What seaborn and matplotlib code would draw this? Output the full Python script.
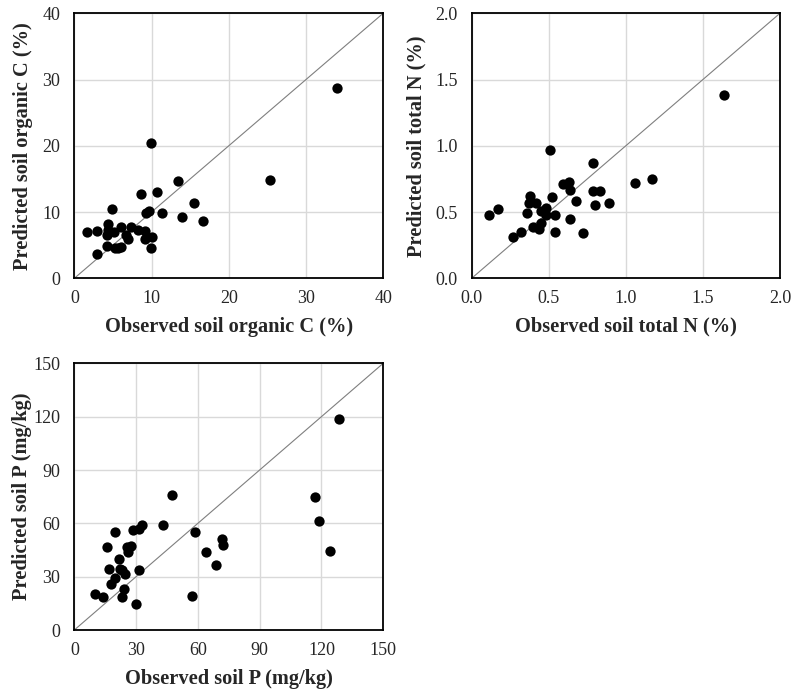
import numpy as np
import pandas as pd
import matplotlib
matplotlib.use("Agg")
import matplotlib.pyplot as plt
import seaborn as sns

# soil organic C (%)
obs_c = [1.6, 3.0, 3.0, 4.2, 4.4, 4.3, 4.2, 4.9, 5.1, 5.3, 5.7, 6.1, 6.0, 6.7, 7.0,
         7.3, 8.3, 8.6, 9.2, 9.1, 9.3, 9.7, 9.9, 9.9, 10.1, 10.7, 11.3, 13.4, 14.0,
         15.5, 16.7, 25.3, 34.0]
pred_c = [7.0, 7.1, 3.6, 4.9, 8.2, 7.3, 6.5, 10.5, 7.0, 4.6, 4.5, 4.8, 7.8, 6.5, 5.9,
          7.7, 7.3, 12.8, 7.1, 5.9, 9.9, 10.2, 20.4, 4.5, 6.3, 13.0, 9.8, 14.7, 9.3,
          11.3, 8.7, 14.8, 28.7]

# soil total N (%)
obs_n = [0.11, 0.17, 0.27, 0.32, 0.36, 0.38, 0.37, 0.40, 0.42, 0.44, 0.45, 0.45,
         0.48, 0.48, 0.51, 0.52, 0.54, 0.54, 0.59, 0.63, 0.64, 0.64, 0.68, 0.72,
         0.79, 0.79, 0.83, 0.80, 0.89, 1.06, 1.17, 1.64]
pred_n = [0.48, 0.52, 0.31, 0.35, 0.49, 0.62, 0.57, 0.39, 0.57, 0.37, 0.42, 0.51,
          0.48, 0.53, 0.97, 0.61, 0.48, 0.35, 0.71, 0.73, 0.67, 0.45, 0.58, 0.34,
          0.87, 0.66, 0.66, 0.55, 0.57, 0.72, 0.75, 1.38]

# soil P (mg/kg)
obs_p = [10.0, 14.1, 16.0, 16.8, 18.0, 19.7, 19.7, 21.7, 22.2, 23.1, 23.9, 23.1,
         24.6, 25.4, 25.9, 27.5, 28.6, 29.8, 31.2, 31.6, 32.7, 43.2, 47.2, 57.3,
         58.7, 63.8, 68.6, 71.8, 72.2, 117.0, 118.9, 124.1, 128.5]
pred_p = [20.1, 18.8, 46.9, 34.1, 25.9, 29.4, 55.1, 39.9, 34.3, 33.8, 23.3, 18.4,
          31.3, 46.5, 44.1, 47.3, 56.3, 14.6, 33.8, 57.0, 58.9, 59.1, 75.9, 19.3,
          55.1, 43.7, 36.8, 51.2, 47.8, 75.0, 61.3, 44.3, 118.5]

panels = [
    (obs_c, pred_c, 40, [0, 10, 20, 30, 40], "{:.0f}",
     "Observed soil organic C (%)", "Predicted soil organic C (%)"),
    (obs_n, pred_n, 2.0, [0, 0.5, 1.0, 1.5, 2.0], "{:.1f}",
     "Observed soil total N (%)", "Predicted soil total N (%)"),
    (obs_p, pred_p, 150, [0, 30, 60, 90, 120, 150], "{:.0f}",
     "Observed soil P (mg/kg)", "Predicted soil P (mg/kg)"),
]

sns.set_style("whitegrid")
plt.rcParams["font.family"] = ["Liberation Serif", "DejaVu Serif"]

fig = plt.figure(figsize=(7.94, 6.93), dpi=100)
boxes = [
    [0.0936, 0.5984, 0.389, 0.3824],
    [0.594, 0.5984, 0.3883, 0.3824],
    [0.0936, 0.0909, 0.389, 0.3848],
]
# y-label offsets (axes fraction) so labels sit at a fixed distance from the axis
ylab_x = [-0.133, -0.146, -0.136]

for box, lx, (x, y, lim, ticks, fmt, xl, yl) in zip(boxes, ylab_x, panels):
    ax = fig.add_axes(box)
    df = pd.DataFrame({"obs": x, "pred": y})
    ax.plot([0, lim], [0, lim], color="#7f7f7f", lw=0.8, zorder=2)
    sns.scatterplot(data=df, x="obs", y="pred", ax=ax, color="black",
                    s=55, edgecolor="black", linewidth=0, zorder=3)
    ax.set_xlim(0, lim)
    ax.set_ylim(0, lim)
    ax.set_xticks(ticks)
    ax.set_yticks(ticks)
    ax.set_xticklabels([fmt.format(t) for t in ticks], fontsize=13)
    ax.set_yticklabels([fmt.format(t) for t in ticks], fontsize=13)
    ax.grid(True, color="#d9d9d9", lw=1.0)
    ax.set_axisbelow(True)
    for sp in ax.spines.values():
        sp.set_color("black")
        sp.set_linewidth(1.3)
    ax.tick_params(length=0)
    ax.tick_params(axis="x", pad=8.5)
    ax.tick_params(axis="y", pad=10)
    ax.set_xlabel(xl, fontsize=14.7, fontweight="bold", labelpad=7)
    ax.set_ylabel(yl, fontsize=14.7, fontweight="bold")
    ax.yaxis.set_label_coords(lx, 0.5)

fig.savefig("out.png", dpi=100)
